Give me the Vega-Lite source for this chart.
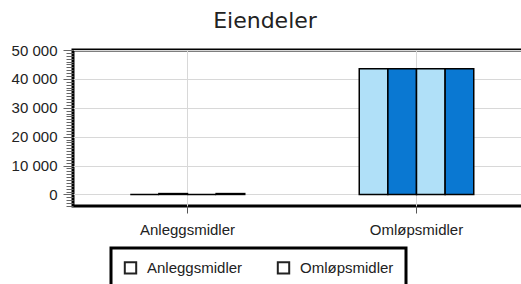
{
  "$schema": "https://vega.github.io/schema/vega-lite/v6.json",
  "autosize": "none",
  "width": 458,
  "height": 156,
  "padding": {"left": 73, "top": 50, "right": 0, "bottom": 78},
  "background": "white",
  "title": {
    "text": "Eiendeler",
    "font": "DejaVu Sans",
    "fontSize": 22,
    "fontWeight": "normal",
    "color": "#222222",
    "anchor": "middle",
    "dx": -37,
    "offset": 10
  },
  "data": {
    "values": [
      {"kategori": "Anleggsmidler", "gruppe": "1", "serie": "Anleggsmidler", "verdi": 0},
      {"kategori": "Anleggsmidler", "gruppe": "2", "serie": "Omløpsmidler", "verdi": 300},
      {"kategori": "Anleggsmidler", "gruppe": "3", "serie": "Anleggsmidler", "verdi": 0},
      {"kategori": "Anleggsmidler", "gruppe": "4", "serie": "Omløpsmidler", "verdi": 300},
      {"kategori": "Omløpsmidler", "gruppe": "1", "serie": "Anleggsmidler", "verdi": 43500},
      {"kategori": "Omløpsmidler", "gruppe": "2", "serie": "Omløpsmidler", "verdi": 43500},
      {"kategori": "Omløpsmidler", "gruppe": "3", "serie": "Anleggsmidler", "verdi": 43500},
      {"kategori": "Omløpsmidler", "gruppe": "4", "serie": "Omløpsmidler", "verdi": 43500}
    ]
  },
  "mark": {"type": "bar", "stroke": "#000000", "strokeWidth": 1.5},
  "encoding": {
    "x": {
      "field": "kategori",
      "type": "nominal",
      "sort": ["Anleggsmidler", "Omløpsmidler"],
      "scale": {"paddingInner": 0, "paddingOuter": 0},
      "axis": {
        "title": null,
        "labelAngle": 0,
        "domain": false,
        "bandPosition": 0.5,
        "grid": true,
        "gridColor": "#d8d8d8",
        "ticks": true,
        "tickSize": 7,
        "tickColor": "#555555",
        "labelPadding": 9,
        "labelFont": "Liberation Sans",
        "labelFontSize": 15,
        "labelColor": "#222222"
      }
    },
    "xOffset": {
      "field": "gruppe",
      "type": "nominal",
      "scale": {"domain": ["a", "b", "1", "2", "3", "4", "c", "d"], "paddingOuter": 0, "paddingInner": 0}
    },
    "y": {
      "field": "verdi",
      "type": "quantitative",
      "scale": {"domain": [-4000, 50000], "nice": false, "zero": false},
      "axis": {
        "title": null,
        "domain": false,
        "values": [-4000,-3000,-2000,-1000,0,1000,2000,3000,4000,5000,6000,7000,8000,9000,10000,11000,12000,13000,14000,15000,16000,17000,18000,19000,20000,21000,22000,23000,24000,25000,26000,27000,28000,29000,30000,31000,32000,33000,34000,35000,36000,37000,38000,39000,40000,41000,42000,43000,44000,45000,46000,47000,48000,49000,50000],
        "labelExpr": "datum.value % 10000 === 0 && datum.value >= 0 ? replace(format(datum.value, ','), ',', ' ') : ''",
        "labelOverlap": false,
        "labelFlush": false,
        "labelFont": "Liberation Sans",
        "labelFontSize": 15,
        "labelColor": "#222222",
        "labelPadding": 6,
        "tickColor": "#666666",
        "tickSize": {"condition": {"test": "datum.value % 10000 === 0", "value": 10}, "value": 7},
        "grid": true,
        "gridColor": "#d8d8d8",
        "gridOpacity": {"condition": {"test": "datum.value % 10000 === 0 && datum.value >= 0", "value": 1}, "value": 0}
      }
    },
    "color": {
      "field": "serie",
      "type": "nominal",
      "scale": {"domain": ["Anleggsmidler", "Omløpsmidler"], "range": ["#b0e0f8", "#0a78d2"]},
      "legend": {
        "title": null,
        "orient": "none",
        "legendX": 38,
        "legendY": 198,
        "direction": "horizontal",
        "fillColor": "white",
        "strokeColor": "#000000",
        "padding": 12,
        "columnPadding": 30,
        "symbolType": "square",
        "symbolSize": 130,
        "symbolStrokeColor": "#222222",
        "symbolStrokeWidth": 1.5,
        "labelFont": "Liberation Sans",
        "labelFontSize": 15,
        "labelColor": "#222222",
        "labelOffset": 9,
        "encode": {
          "legend": {"update": {"strokeWidth": {"value": 3}}},
          "symbols": {"update": {"fillOpacity": {"value": 0}, "stroke": {"value": "#222222"}, "strokeWidth": {"value": 2}}}
        }
      }
    }
  },
  "config": {
    "view": {"stroke": "#000000", "strokeWidth": 3}
  }
}
